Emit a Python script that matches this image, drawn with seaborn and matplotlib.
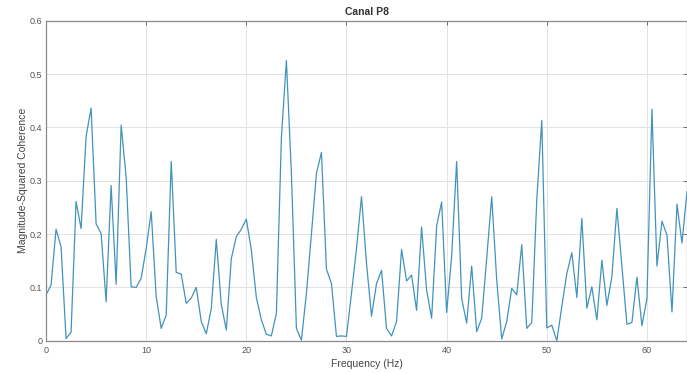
import numpy as np
import pandas as pd
import matplotlib
matplotlib.use("Agg")
import matplotlib.pyplot as plt
import seaborn as sns

# frequency bins (Hz) and coherence values
freq = np.arange(0, 64.5, 0.5)
coherence = [
    0.086, 0.104, 0.209, 0.176, 0.004, 0.016, 0.261, 0.210, 0.383, 0.436,
    0.219, 0.201, 0.073, 0.291, 0.106, 0.404, 0.307, 0.101, 0.100, 0.117,
    0.173, 0.242, 0.083, 0.023, 0.048, 0.336, 0.128, 0.125, 0.070, 0.080,
    0.100, 0.036, 0.013, 0.060, 0.190, 0.068, 0.020, 0.154, 0.195, 0.209,
    0.228, 0.170, 0.081, 0.039, 0.012, 0.009, 0.051, 0.380, 0.525, 0.314,
    0.023, 0.001, 0.089, 0.200, 0.314, 0.353, 0.134, 0.107, 0.008, 0.009,
    0.008, 0.089, 0.173, 0.270, 0.145, 0.046, 0.107, 0.132, 0.023, 0.009,
    0.036, 0.171, 0.112, 0.123, 0.057, 0.213, 0.095, 0.042, 0.215, 0.260,
    0.053, 0.158, 0.336, 0.079, 0.033, 0.140, 0.017, 0.042, 0.154, 0.270,
    0.114, 0.003, 0.036, 0.098, 0.086, 0.180, 0.023, 0.034, 0.264, 0.413,
    0.024, 0.029, 0.000, 0.064, 0.126, 0.165, 0.081, 0.229, 0.061, 0.101,
    0.039, 0.151, 0.066, 0.120, 0.248, 0.139, 0.031, 0.034, 0.119, 0.028,
    0.079, 0.434, 0.140, 0.224, 0.198, 0.054, 0.256, 0.183, 0.280,
]
x_ticks = [0, 10, 20, 30, 40, 50, 60]
y_ticks = [0, 0.1, 0.2, 0.3, 0.4, 0.5, 0.6]
y_tick_labels = ["0", "0.1", "0.2", "0.3", "0.4", "0.5", "0.6"]

df = pd.DataFrame({"Frequency": freq, "Coherence": coherence})

sns.set_style("white")
plt.rcParams["font.family"] = ["Liberation Sans", "DejaVu Sans"]

fig = plt.figure(figsize=(6.87, 3.73), dpi=100)
ax = fig.add_axes([0.067, 0.0866, 0.933, 0.858])
sns.lineplot(data=df, x="Frequency", y="Coherence", ax=ax,
             color="#4193bd", linewidth=0.9)

ax.set_xlim(0, 64)
ax.set_ylim(0, 0.6)
ax.set_xticks(x_ticks)
ax.set_yticks(y_ticks)
ax.set_yticklabels(y_tick_labels)
ax.grid(True, color="#e3e3e3", linewidth=0.7)
ax.set_axisbelow(True)
for s in ax.spines.values():
    s.set_visible(True)
    s.set_color("#8a8a8a")
    s.set_linewidth(0.9)
ax.tick_params(direction="in", length=3, width=0.7, color="#6a6a6a",
               top=True, right=True, labelsize=6.5, labelcolor="#555555")
ax.tick_params(axis="x", pad=4)
ax.tick_params(axis="y", pad=2.5)

ax.set_xlabel("Frequency (Hz)", fontsize=7.5, color="#444444", labelpad=3)
ax.set_ylabel("Magnitude-Squared Coherence", fontsize=7.5, color="#444444",
              labelpad=1.5)
ax.set_title("Canal P8", fontsize=7.5, fontweight="bold", color="#333333",
             pad=4)

fig.patch.set_facecolor("white")
fig.savefig("out.png", dpi=100)
plt.close(fig)
